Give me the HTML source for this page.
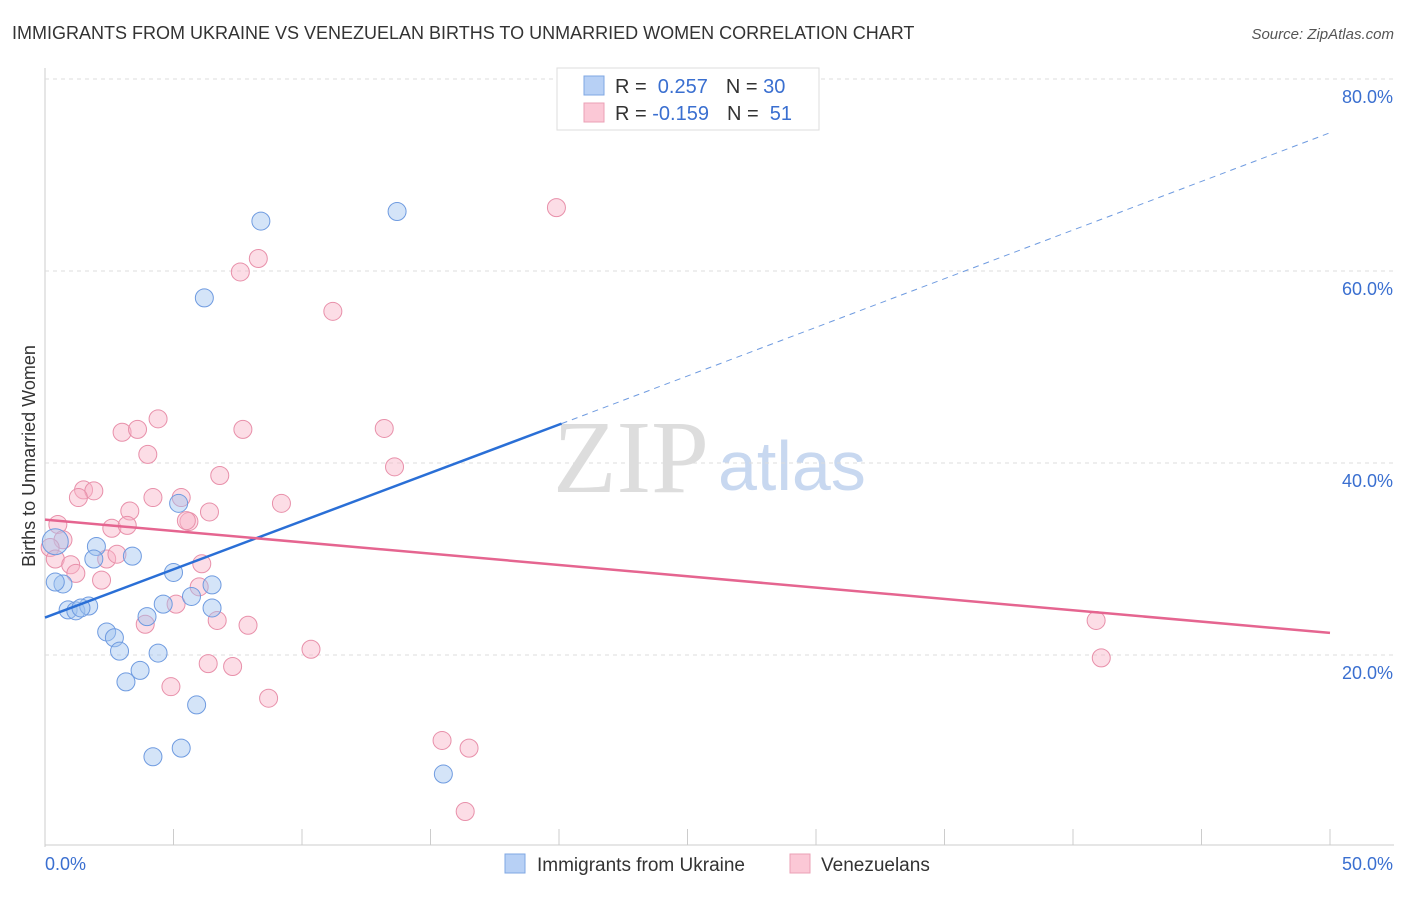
<!DOCTYPE html>
<html><head><meta charset="utf-8"><style>
body{margin:0;background:#fff;font-family:"Liberation Sans",sans-serif}
svg text{font-family:"Liberation Sans",sans-serif}
</style></head><body>
<svg width="1406" height="892" id="chart">
<text x="12" y="39" font-size="18" fill="#333">IMMIGRANTS FROM UKRAINE VS VENEZUELAN BIRTHS TO UNMARRIED WOMEN CORRELATION CHART</text>
<text x="1394" y="39" font-size="15" fill="#555" text-anchor="end" font-style="italic">Source: ZipAtlas.com</text>
<text x="35" y="456" font-size="18" fill="#333" transform="rotate(-90 35 456)" text-anchor="middle">Births to Unmarried Women</text>
<text x="553" y="492" font-size="104" fill="#ddd" style="font-family:'Liberation Serif',serif">ZIP</text>
<text x="718" y="490" font-size="70" fill="#c8d8f0">atlas</text>
<g id="grid"></g><g id="marks"></g>
<g>
<rect x="557" y="68" width="262" height="62" fill="#fff" stroke="#ddd"/>
<rect x="584" y="76" width="20" height="19" fill="#b7d0f5" stroke="#7fa7e3"/>
<rect x="584" y="103" width="20" height="19" fill="#fbc8d6" stroke="#eba0b6"/>
<text x="615" y="93" font-size="20" fill="#333">R = <tspan fill="#3a6fd0">&#160;0.257</tspan><tspan dx="18">N = </tspan><tspan fill="#3a6fd0">30</tspan></text>
<text x="615" y="120" font-size="20" fill="#333">R = <tspan fill="#3a6fd0">-0.159</tspan><tspan dx="18">N = </tspan><tspan fill="#3a6fd0">&#160;51</tspan></text>
</g>
<g>
<rect x="505" y="854" width="20" height="19" fill="#b7d0f5" stroke="#7fa7e3"/>
<text x="537" y="871" font-size="19" fill="#333">Immigrants from Ukraine</text>
<rect x="790" y="854" width="20" height="19" fill="#fbc8d6" stroke="#eba0b6"/>
<text x="821" y="871" font-size="19" fill="#333">Venezuelans</text>
</g>
</svg>
<script>
const yTicks=[20,40,60,80];
const xTickLabels=["0.0%","50.0%"];
const blueX=[8.4,13.7,6.2,5.2,0.4,2.0,3.4,1.9,0.7,0.4,5.0,6.5,0.9,1.2,1.7,1.4,4.6,5.7,6.5,3.97,2.4,2.7,2.9,4.4,3.7,3.15,5.9,5.3,4.2,15.5];
const blueY=[65.2,66.2,57.2,35.8,31.8,31.3,30.3,30.0,27.4,27.6,28.6,27.3,24.7,24.6,25.1,24.9,25.3,26.1,24.9,24.0,22.4,21.8,20.4,20.2,18.4,17.2,14.8,10.3,9.4,7.6];
const pinkX=[19.9,8.3,7.6,11.2,4.4,3.0,3.6,7.7,13.2,4.0,13.6,6.8,1.5,1.9,1.3,4.2,5.3,9.2,5.6,5.5,6.4,3.3,2.6,3.2,0.5,0.7,0.2,0.4,1.0,1.2,2.2,2.4,2.8,6.1,6.0,5.1,6.7,3.9,7.9,6.35,7.3,4.9,8.7,10.35,15.45,16.5,16.35,40.9,41.1];
const pinkY=[66.6,61.3,59.9,55.8,44.6,43.2,43.5,43.5,43.6,40.9,39.6,38.7,37.2,37.1,36.4,36.4,36.4,35.8,33.9,34.0,34.9,35.0,33.2,33.5,33.6,32.0,31.2,30.0,29.4,28.5,27.8,30.0,30.5,29.5,27.1,25.3,23.6,23.2,23.1,19.1,18.8,16.7,15.5,20.6,11.1,10.3,3.7,23.6,19.7];
const blueFit=[[0,23.9],[20.1,44.1],[50,74.4]];
const pinkFit=[[0,34.1],[50,22.3]];
const NS="http://www.w3.org/2000/svg";
const X=v=>45+v/50*1285, Y=v=>847-v/20*192;
const grid=document.getElementById('grid'), marks=document.getElementById('marks');
function mk(tag,attrs,parent){const e=document.createElementNS(NS,tag);for(const k in attrs)e.setAttribute(k,attrs[k]);parent.appendChild(e);return e;}
let ax=mk('line',{x1:45,y1:68,x2:45,y2:847,stroke:'#ccc'},grid);


let xax=mk('line',{x1:45,y1:845,x2:1394,y2:845,stroke:'#ccc'},grid);


for(let i=0;i<=10;i++){const t=mk('line',{x1:X(i*5),y1:829,x2:X(i*5),y2:845,stroke:'#ccc'},grid);

}
yTicks.forEach(v=>{const g=mk('line',{x1:45,y1:Y(v),x2:1394,y2:Y(v),stroke:'#ddd','stroke-dasharray':'4,4'},grid);


const t=mk('text',{x:1393,y:Y(v)+24,'font-size':18,fill:'#3a6fd0','text-anchor':'end'},grid);t.textContent=v.toFixed(1)+'%';

});
xTickLabels.forEach((s,i)=>{const t=mk('text',{x:i?1393:45,y:870,'font-size':18,fill:'#3a6fd0','text-anchor':i?'end':'start'},grid);t.textContent=s;

});
pinkX.forEach((v,i)=>{const c=mk('circle',{cx:X(v),cy:Y(pinkY[i]),r:9,fill:'rgba(248,180,200,0.45)',stroke:'#e890aa','stroke-width':1},marks);

});
blueX.forEach((v,i)=>{const c=mk('circle',{cx:X(v),cy:Y(blueY[i]),r:i==4?13:9,fill:'rgba(160,195,240,0.45)',stroke:'#6f9be0','stroke-width':1},marks);

});
let l1=mk('line',{x1:X(blueFit[0][0]),y1:Y(blueFit[0][1]),x2:X(blueFit[1][0]),y2:Y(blueFit[1][1]),stroke:'#2a6fd6','stroke-width':2.5},marks);


let l2=mk('line',{x1:X(blueFit[1][0]),y1:Y(blueFit[1][1]),x2:X(blueFit[2][0]),y2:Y(blueFit[2][1]),stroke:'#6f9be0','stroke-width':1,'stroke-dasharray':'6,5'},marks);


let l3=mk('line',{x1:X(pinkFit[0][0]),y1:Y(pinkFit[0][1]),x2:X(pinkFit[1][0]),y2:Y(pinkFit[1][1]),stroke:'#e56590','stroke-width':2.5},marks);


</script>
</body></html>
